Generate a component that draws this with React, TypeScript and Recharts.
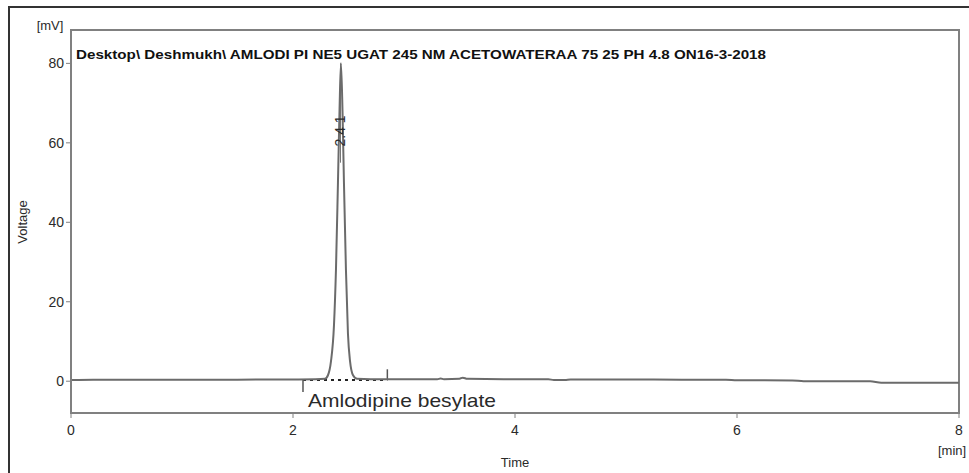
import { LineChart, Line, XAxis, YAxis, ReferenceLine, ReferenceDot, Customized } from 'recharts'

// chromatogram trace (min, mV)
const times = [
  0, 0.2, 0.5, 1.0, 1.5, 2.0, 2.2, 2.288, 2.315, 2.342, 2.369, 2.387, 2.405, 2.419, 2.432,
  2.446, 2.459, 2.477, 2.495, 2.514, 2.541, 2.577, 2.7, 3.0, 3.3, 3.33, 3.36, 3.5, 3.53, 3.57,
  3.9, 4.3, 4.35, 4.45, 4.5, 5.0, 5.5, 5.9, 6.0, 6.5, 6.6, 7.0, 7.2, 7.3, 8.0,
]
const volts = [
  0.3, 0.4, 0.4, 0.4, 0.4, 0.45, 0.5, 0.6, 1.5, 5, 14, 28, 50, 68, 80,
  68, 50, 28, 12, 5, 1.5, 0.6, 0.5, 0.5, 0.5, 0.7, 0.5, 0.6, 0.9, 0.6,
  0.5, 0.5, 0.3, 0.3, 0.45, 0.45, 0.4, 0.4, 0.25, 0.2, 0.0, 0.0, 0.0, -0.4, -0.4,
]
const xTicks = [0, 2, 4, 6, 8]
const yTicks = [0, 20, 40, 60, 80]

const title = 'Desktop\\ Deshmukh\\ AMLODI PI NE5 UGAT 245 NM ACETOWATERAA 75 25 PH 4.8 ON16-3-2018'
const peakName = 'Amlodipine besylate'
const peakTime = 2.432
const peakLabel = '2.4 1'
const baseStart = 2.09
const baseEnd = 2.85

const data = times.map((t, i) => ({ t, v: volts[i] }))

const ink = '#2a2a2a'
const axisGray = '#808080'
const font = "'Liberation Sans', Arial, sans-serif"

function Texts() {
  return (
    <g fontFamily={font}>
      {/* outer frame: only top and left edges show in the picture */}
      <rect x={8} y={6} width={961} height={2} fill="#333" />
      <rect x={8} y={6} width={2} height={467} fill="#333" />
      {/* plot frame */}
      <rect x={71} y={30} width={888} height={383} fill="none" stroke={axisGray} strokeWidth={2} />
      <text x={50} y={30} fontSize={13} fill={ink} textAnchor="middle">[mV]</text>
      <text x={938} y={455} fontSize={13} fill={ink} textAnchor="start">[min]</text>
      <text x={515} y={467} fontSize={13} fill={ink} textAnchor="middle">Time</text>
      <text x={27} y={222} fontSize={13} fill={ink} textAnchor="middle" transform="rotate(-90 27 222)">Voltage</text>
      <text x={76} y={59} fontSize={12} fontWeight="bold" fill="#111" textLength={690} lengthAdjust="spacingAndGlyphs">
        {title}
      </text>
      <text x={308} y={407} fontSize={19} fill={ink} textLength={188} lengthAdjust="spacingAndGlyphs">
        {peakName}
      </text>
    </g>
  )
}

export default function App() {
  return (
    <div style={{ position: 'fixed', left: 0, top: 0, width: 969, height: 473, background: '#fff' }}>
      <LineChart
        width={969}
        height={473}
        data={data}
        margin={{ top: 30, right: 10, bottom: 0, left: 9 }}
      >
        <XAxis
          dataKey="t"
          type="number"
          domain={[0, 8]}
          ticks={xTicks}
          height={60}
          tickSize={5}
          tickMargin={7}
          tick={{ fill: ink, fontSize: 14, fontFamily: font }}
          axisLine={{ stroke: axisGray, strokeWidth: 2 }}
          tickLine={{ stroke: axisGray }}
        />
        <YAxis
          type="number"
          domain={[-8, 88.4]}
          ticks={yTicks}
          width={62}
          tickSize={5}
          tick={{ fill: ink, fontSize: 14, fontFamily: font }}
          axisLine={{ stroke: axisGray, strokeWidth: 2 }}
          tickLine={{ stroke: axisGray }}
          allowDataOverflow
        />
        {/* integration baseline and its start / end marks */}
        <ReferenceLine
          segment={[{ x: baseStart, y: 0.3 }, { x: baseEnd, y: 0.3 }]}
          stroke="#222"
          strokeWidth={2}
          strokeDasharray="3 4"
        />
        <ReferenceLine segment={[{ x: baseStart, y: 0.3 }, { x: baseStart, y: -2.7 }]} stroke="#555" strokeWidth={1.5} />
        <ReferenceLine segment={[{ x: baseEnd, y: 0.3 }, { x: baseEnd, y: 3 }]} stroke="#555" strokeWidth={1.5} />
        {/* retention time marker */}
        <ReferenceLine segment={[{ x: peakTime - 0.004, y: 80 }, { x: peakTime - 0.004, y: 55 }]} stroke="#777" strokeWidth={1} />
        <ReferenceDot
          x={peakTime - 0.012}
          y={63}
          r={0}
          label={(props: any) => {
            const { viewBox } = props
            const cx = viewBox.x + (viewBox.width || 0) / 2
            const cy = viewBox.y + (viewBox.height || 0) / 2
            return (
              <text
                x={cx}
                y={cy}
                fontSize={14}
                fill={ink}
                textAnchor="middle"
                dominantBaseline="central"
                fontFamily={font}
                transform={`rotate(-90 ${cx} ${cy})`}
              >
                {peakLabel}
              </text>
            )
          }}
        />
        <Line
          type="monotone"
          dataKey="v"
          stroke="#6b6b6b"
          strokeWidth={2}
          dot={false}
          isAnimationActive={false}
        />
        <Customized component={Texts} />
      </LineChart>
    </div>
  )
}
